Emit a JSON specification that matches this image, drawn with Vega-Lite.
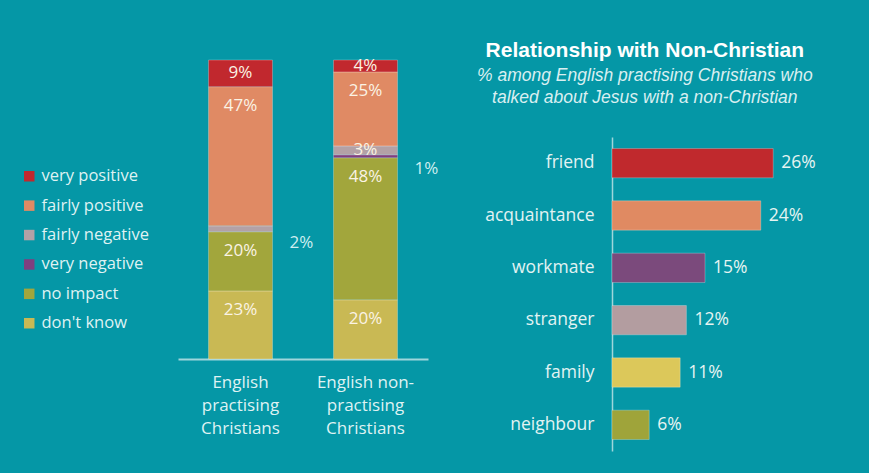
{
  "$schema": "https://vega.github.io/schema/vega-lite/v6.json",
  "background": "#0597a6",
  "padding": {"left": 21, "top": 39, "right": 40, "bottom": 22},
  "config": {
    "view": {"stroke": null},
    "font": "Open Sans",
    "axis": {"grid": false, "ticks": false},
    "concat": {"spacing": 38}
  },
  "resolve": {"scale": {"color": "independent"}, "legend": {"color": "independent"}},
  "datasets": {
    "stack": [
      {"group": "English practising Christians", "response": "don't know", "value": 23},
      {"group": "English practising Christians", "response": "no impact", "value": 20},
      {"group": "English practising Christians", "response": "fairly negative", "value": 2},
      {"group": "English practising Christians", "response": "fairly positive", "value": 47},
      {"group": "English practising Christians", "response": "very positive", "value": 9},
      {"group": "English non-practising Christians", "response": "don't know", "value": 20},
      {"group": "English non-practising Christians", "response": "no impact", "value": 48},
      {"group": "English non-practising Christians", "response": "very negative", "value": 1},
      {"group": "English non-practising Christians", "response": "fairly negative", "value": 3},
      {"group": "English non-practising Christians", "response": "fairly positive", "value": 25},
      {"group": "English non-practising Christians", "response": "very positive", "value": 4}
    ],
    "rel": [
      {"relation": "friend", "pct": 26},
      {"relation": "acquaintance", "pct": 24},
      {"relation": "workmate", "pct": 15},
      {"relation": "stranger", "pct": 12},
      {"relation": "family", "pct": 11},
      {"relation": "neighbour", "pct": 6}
    ]
  },
  "hconcat": [
    {
      "width": 250,
      "height": 222,
      "data": {"name": "stack"},
      "transform": [
        {"calculate": "indexof(['don\\'t know','no impact','very negative','fairly negative','fairly positive','very positive'], datum.response)", "as": "k"},
        {"stack": "value", "groupby": ["group"], "sort": [{"field": "k"}], "as": ["y0", "y1"]},
        {"calculate": "max(datum.y1 - 6.6, (datum.y0 + datum.y1) / 2)", "as": "ly"},
        {"calculate": "datum.value + '%'", "as": "lab"}
      ],
      "encoding": {
        "x": {
          "field": "group",
          "type": "nominal",
          "sort": ["English practising Christians", "English non-practising Christians"],
          "scale": {"paddingInner": 0.488, "paddingOuter": 0.244},
          "axis": {
            "title": null,
            "labelAngle": 0,
            "labelFontSize": 17,
            "labelColor": "#dff2f3",
            "labelPadding": 15,
            "labelLineHeight": 23,
            "labelBaseline": "top",
            "domainColor": "#9fd6db",
            "domainWidth": 2,
            "labelExpr": "datum.value == 'English practising Christians' ? ['English', 'practising', 'Christians'] : ['English non-', 'practising', 'Christians']"
          }
        }
      },
      "layer": [
        {
          "mark": {"type": "bar", "stroke": "#ffffff", "strokeOpacity": 0.25, "strokeWidth": 1},
          "encoding": {
            "y": {"field": "y0", "type": "quantitative", "scale": {"domain": [0, 75], "nice": false}, "axis": null},
            "y2": {"field": "y1"},
            "color": {
              "field": "response",
              "type": "nominal",
              "scale": {
                "domain": ["very positive", "fairly positive", "fairly negative", "very negative", "no impact", "don't know"],
                "range": ["#c1282e", "#e08a64", "#b3a1a6", "#7f3f7f", "#a2a63c", "#c9b954"]
              },
              "legend": {
                "orient": "none",
                "legendX": -157,
                "legendY": 31,
                "title": null,
                "symbolType": "square",
                "symbolSize": 110,
                "symbolStrokeWidth": 0,
                "labelFontSize": 16.5,
                "labelColor": "#dff2f3",
                "labelFont": "Open Sans",
                "rowPadding": 12.4,
                "labelOffset": 4
              }
            }
          }
        },
        {
          "transform": [{"filter": "datum.value > 2"}],
          "mark": {"type": "text", "fontSize": 17, "color": "#fbf3e4", "baseline": "middle"},
          "encoding": {
            "y": {"field": "ly", "type": "quantitative", "scale": {"domain": [0, 75], "nice": false}},
            "text": {"field": "lab"}
          }
        },
        {
          "transform": [{"filter": "datum.value <= 2"}],
          "mark": {"type": "text", "fontSize": 17, "color": "#cfeef0", "baseline": "middle", "align": "left", "dx": 49, "dy": 11},
          "encoding": {
            "y": {"field": "y0", "type": "quantitative", "scale": {"domain": [0, 75], "nice": false}},
            "text": {"field": "lab"}
          }
        }
      ]
    },
    {
      "width": 217,
      "height": 314,
      "data": {"name": "rel"},
      "transform": [{"calculate": "datum.pct + '%'", "as": "lab"}],
      "title": {
        "text": "Relationship with Non-Christian",
        "subtitle": ["% among English practising Christians who", "talked about Jesus with a non-Christian"],
        "font": "Liberation Sans",
        "fontSize": 21,
        "fontWeight": "bold",
        "color": "#ffffff",
        "subtitleFont": "Liberation Sans",
        "subtitleFontSize": 17.5,
        "subtitleFontStyle": "italic",
        "subtitleColor": "#d9eff1",
        "subtitlePadding": 6,
        "subtitleLineHeight": 22,
        "anchor": "middle",
        "frame": "bounds",
        "dx": -12,
        "offset": 31
      },
      "encoding": {
        "y": {
          "field": "relation",
          "type": "nominal",
          "sort": null,
          "scale": {"paddingInner": 0.44, "paddingOuter": 0.22},
          "axis": {
            "title": null,
            "labelFontSize": 17.5,
            "labelColor": "#e2f3f3",
            "labelPadding": 18,
            "labelFont": "Open Sans",
            "domainColor": "#9fd6db",
            "domainWidth": 1.5
          }
        }
      },
      "layer": [
        {
          "mark": {"type": "bar", "stroke": "#ffffff", "strokeOpacity": 0.25, "strokeWidth": 1},
          "encoding": {
            "x": {"field": "pct", "type": "quantitative", "scale": {"domain": [0, 35]}, "axis": null},
            "color": {
              "field": "relation",
              "type": "nominal",
              "scale": {
                "domain": ["friend", "acquaintance", "workmate", "stranger", "family", "neighbour"],
                "range": ["#c0292d", "#e08a62", "#7b4a7c", "#b39da0", "#dcc85a", "#9fa43a"]
              },
              "legend": null
            }
          }
        },
        {
          "mark": {"type": "text", "align": "left", "dx": 8, "fontSize": 17.5, "color": "#e6f4f2", "baseline": "middle"},
          "encoding": {
            "x": {"field": "pct", "type": "quantitative", "scale": {"domain": [0, 35]}},
            "text": {"field": "lab"}
          }
        }
      ]
    }
  ]
}
